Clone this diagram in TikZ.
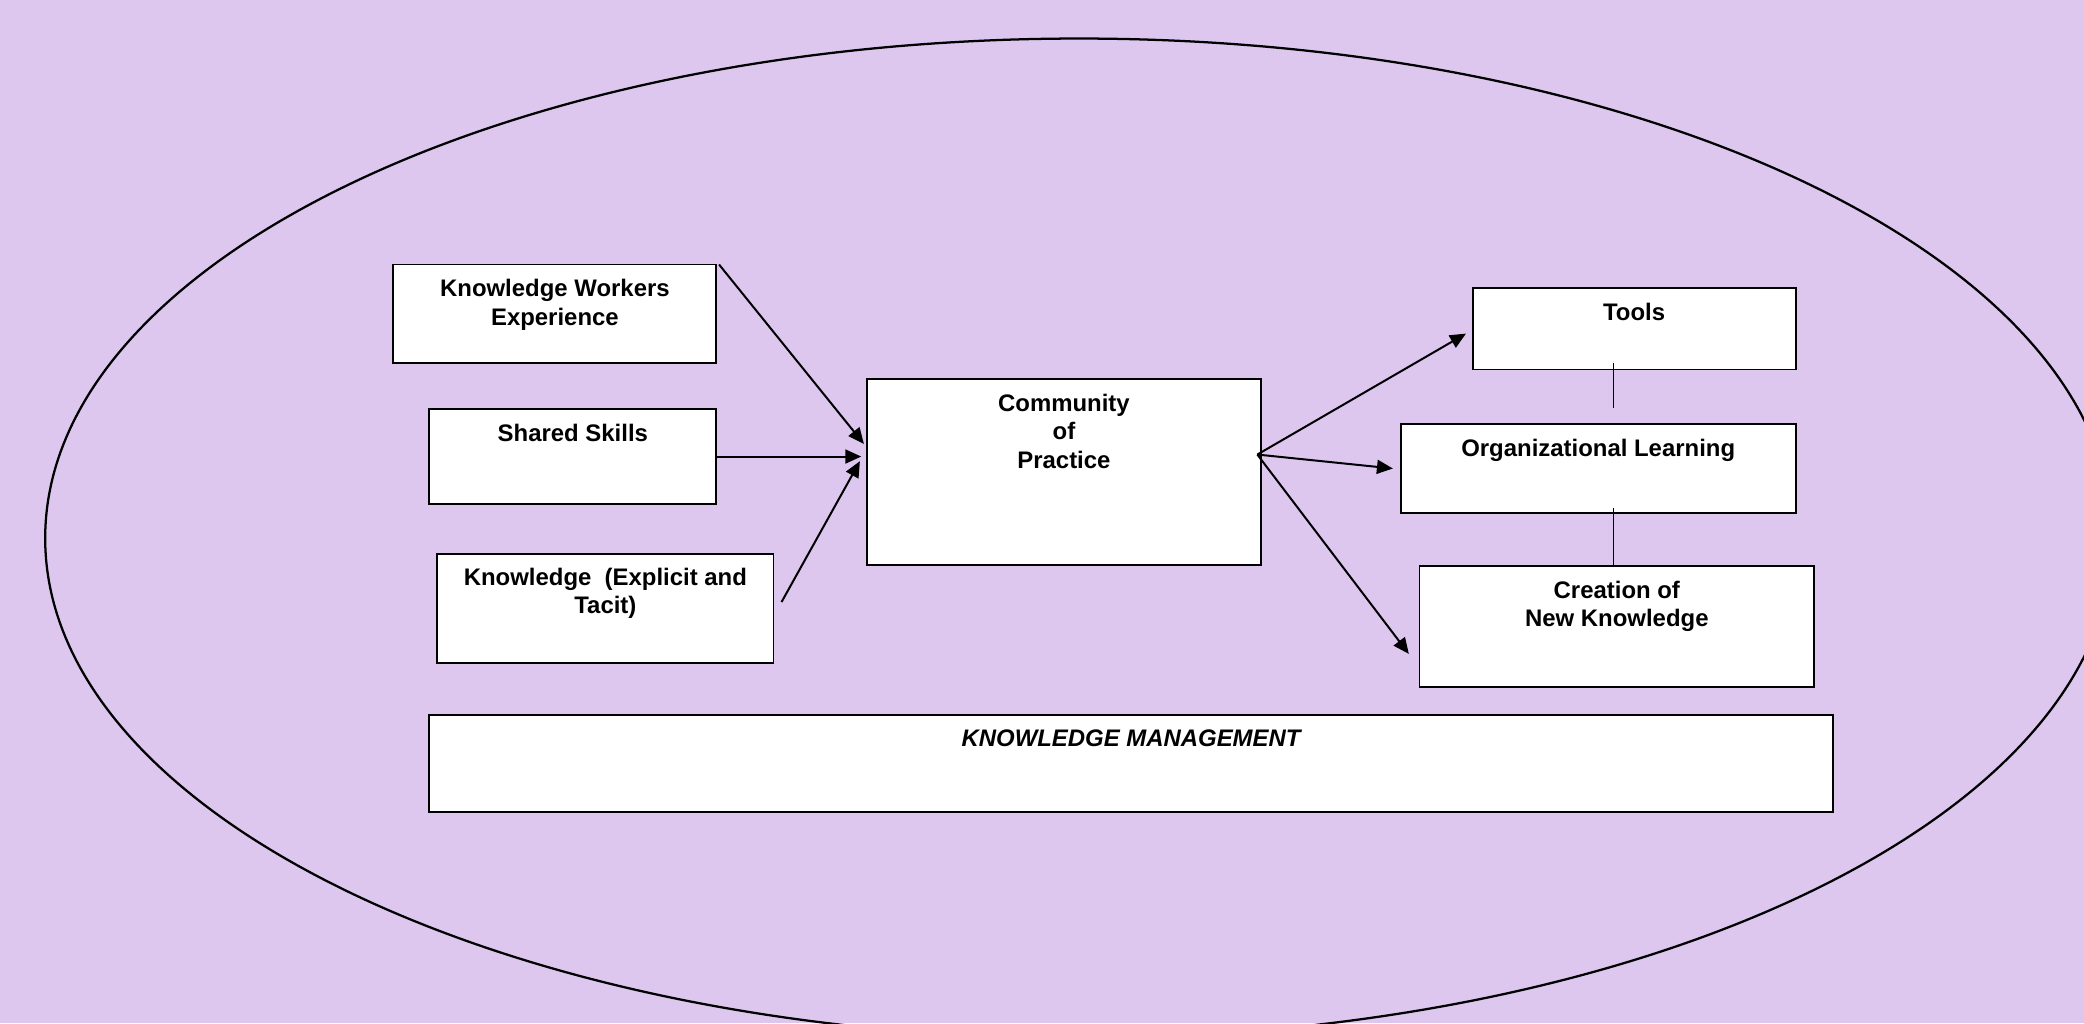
\documentclass[tikz,border=0pt]{standalone}
\usepackage{fontspec}
\setmainfont{Liberation Sans}
\usetikzlibrary{arrows.meta,calc}
\definecolor{bgpurple}{RGB}{221,199,238}
\tikzset{
  box/.style={draw=black, fill=white, line width=1.4pt, inner sep=0pt, outer sep=0pt, anchor=north west},
  lbl/.style={anchor=north, inner sep=0pt, align=center, font=\bfseries\fontsize{18}{21.5}\selectfont},
  arr/.style={line width=1.5pt, -{Triangle[length=12pt,width=10.5pt]}},
  link/.style={line width=1.1pt}
}
\begin{document}
\begin{tikzpicture}[x=1pt,y=-1pt]
\fill[bgpurple] (0,0) rectangle (1568,770);
\useasboundingbox (0,0) rectangle (1568,770);
\begin{scope}
\clip (0,0) rectangle (1568,770);
\draw[line width=1.7pt] (812,405) ellipse [x radius=778, y radius=376];
\end{scope}

% left boxes
\node[box, minimum width=243, minimum height=74] (kwe) at (296,199) {};
\node[box, minimum width=216, minimum height=71] (ss) at (323,308) {};
\node[box, minimum width=253, minimum height=82] (kt) at (329,417) {};
% centre
\node[box, minimum width=297, minimum height=140] (cop) at (652,285) {};
% right boxes
\node[box, minimum width=243, minimum height=61] (tools) at (1108,217) {};
\node[box, minimum width=297, minimum height=67] (ol) at (1054,319) {};
\node[box, minimum width=297, minimum height=91] (cnk) at (1068,426) {};
% bottom
\node[box, minimum width=1056, minimum height=73] (km) at (323,538) {};

% labels
\node[lbl] (kwet) at ($(kwe.north)+(0,11)$) {Knowledge Workers\\Experience};
\node[lbl] (sst) at ($(ss.north)+(0,11)$) {Shared Skills};
\node[lbl] (ktt) at ($(kt.north)+(0,10)$) {Knowledge\ \ (Explicit and\\Tacit)};
\node[lbl] (copt) at ($(cop.north)+(0,11)$) {Community\\of\\Practice};
\node[lbl] (toolst) at ($(tools.north)+(0,11)$) {Tools};
\node[lbl] (olt) at ($(ol.north)+(0,11)$) {Organizational Learning};
\node[lbl] (cnkt) at ($(cnk.north)+(0,11)$) {Creation of\\New Knowledge};
\node[lbl, font=\bfseries\itshape\fontsize{18}{21.5}\selectfont] (kmt) at ($(km.north)+(0,11)$) {KNOWLEDGE MANAGEMENT};

% arrows into community of practice
\draw[arr] ($(kwe.north east)+(2,0)$) -- ($(cop.north west)+(-2,49)$);
\draw[arr] (ss.east) -- ($(cop.west|-ss.east)+(-4,0)$);
\draw[arr] ($(kt.east)+(6,-5)$) -- ($(cop.west)+(-5,-8)$);

% arrows out of community of practice
\coordinate (src) at ($(cop.east)+(-3,-13)$);
\draw[arr] (src) -- ($(tools.west)+(-5,3.5)$);
\draw[arr] (src) -- ($(ol.west)+(-6,0)$);
\draw[arr] (src) -- ($(cnk.west)+(-8,20.5)$);

% vertical links
\draw[link] ($(tools.south)+(-15.5,-5)$) -- ($(ol.north)+(11.5,-12)$);
\draw[link] ($(ol.south)+(11.5,-4)$) -- ($(cnk.north)+(-2.5,0)$);
\end{tikzpicture}
\end{document}
